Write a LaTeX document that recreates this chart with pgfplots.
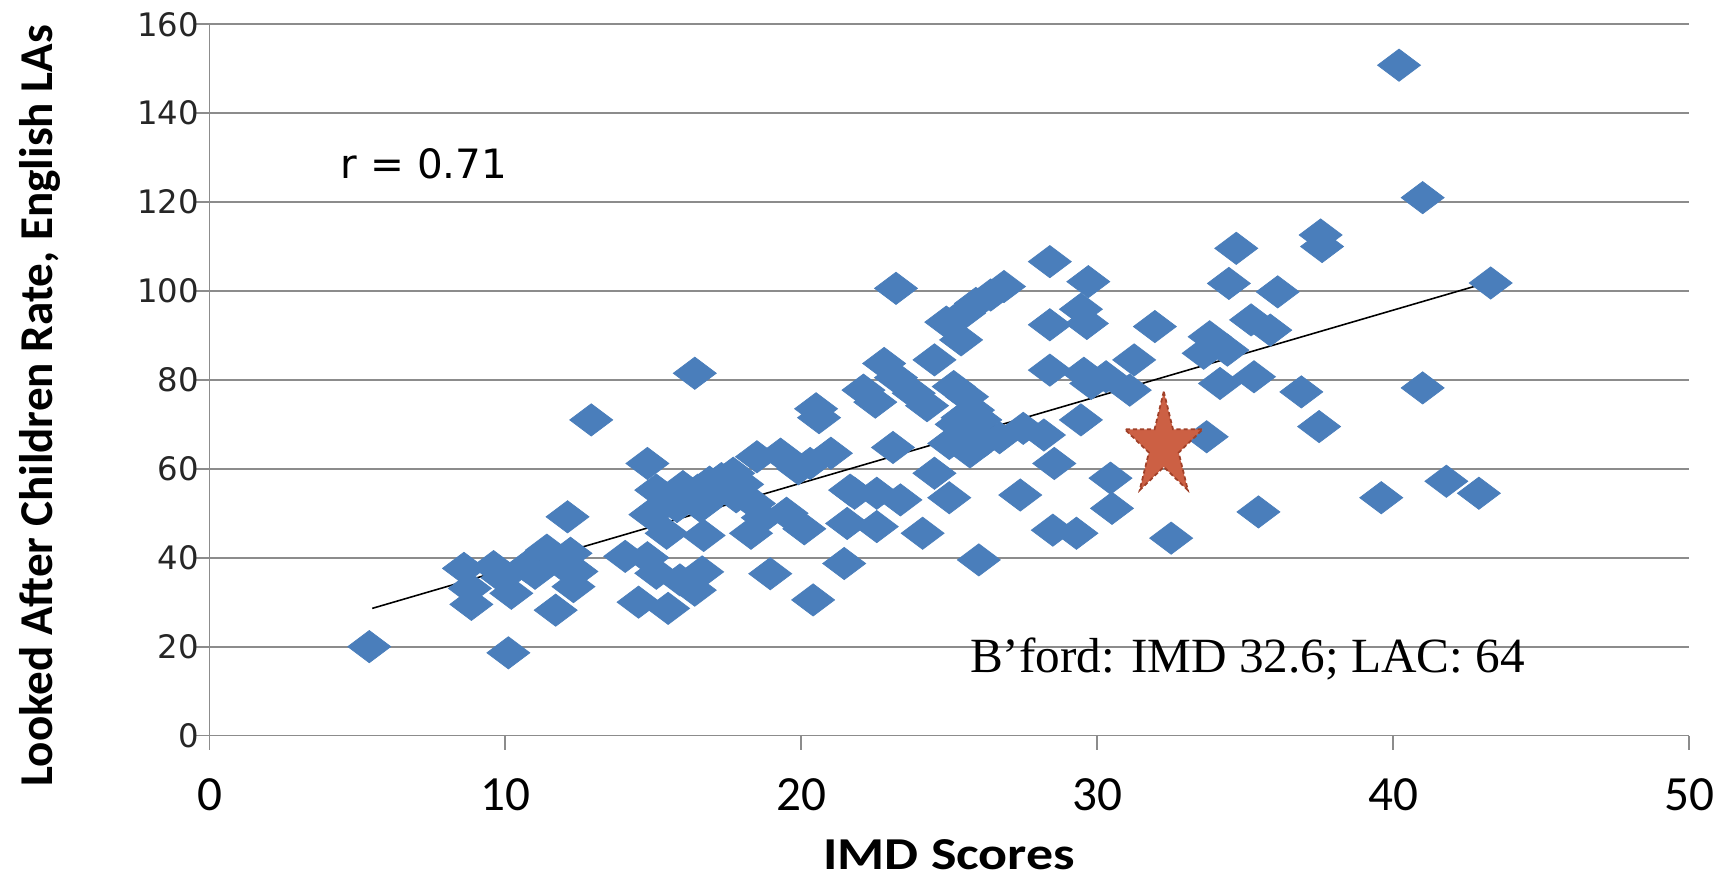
\documentclass[border=0pt]{standalone}
\usepackage{fontspec}
\setmainfont{Carlito}
\newfontfamily\dejavu{DejaVu Sans}
\newfontfamily\libserif{Liberation Serif}
\usepackage{graphicx}
\usepackage{pgfplots}
\pgfplotsset{compat=1.18}

\definecolor{ptblue}{RGB}{74,126,187}
\definecolor{gridgray}{RGB}{140,140,140}
\definecolor{starfill}{RGB}{204,96,68}
\definecolor{staredge}{RGB}{160,64,40}

% filled five-point star, outer radius = mark size
\pgfdeclareplotmark{fivestar}{%
  \pgfpathmoveto{\pgfqpoint{0pt}{\pgfplotmarksize}}%
  \pgfpathlineto{\pgfqpoint{-0.2245\pgfplotmarksize}{0.3090\pgfplotmarksize}}%
  \pgfpathlineto{\pgfqpoint{-0.9511\pgfplotmarksize}{0.3090\pgfplotmarksize}}%
  \pgfpathlineto{\pgfqpoint{-0.3633\pgfplotmarksize}{-0.1180\pgfplotmarksize}}%
  \pgfpathlineto{\pgfqpoint{-0.5878\pgfplotmarksize}{-0.8090\pgfplotmarksize}}%
  \pgfpathlineto{\pgfqpoint{0pt}{-0.3820\pgfplotmarksize}}%
  \pgfpathlineto{\pgfqpoint{0.5878\pgfplotmarksize}{-0.8090\pgfplotmarksize}}%
  \pgfpathlineto{\pgfqpoint{0.3633\pgfplotmarksize}{-0.1180\pgfplotmarksize}}%
  \pgfpathlineto{\pgfqpoint{0.9511\pgfplotmarksize}{0.3090\pgfplotmarksize}}%
  \pgfpathlineto{\pgfqpoint{0.2245\pgfplotmarksize}{0.3090\pgfplotmarksize}}%
  \pgfpathclose
  \pgfusepathqfillstroke
}

\pgfplotstableread{
x y
5.4 20.0
8.6 37.6
8.8 33.1
8.85 29.5
9.6 38.0
9.9 35.5
10.1 18.6
10.2 32.0
10.7 38.0
11.0 36.5
11.4 41.7
11.7 28.2
12.1 49.2
12.2 41.0
12.4 36.9
12.3 33.5
11.9 38.5
12.9 71.0
14.05 40.3
14.8 40.0
14.5 30.0
15.5 28.6
15.1 36.5
15.9 35.0
16.65 36.8
16.4 32.7
14.8 61.2
15.1 55.2
14.9 49.7
15.45 45.5
15.8 51.5
16.0 56.0
16.5 55.2
16.6 51.5
17.0 53.7
16.7 45.0
16.4 81.5
16.9 57.0
17.3 57.8
17.7 59.0
18.5 62.7
19.3 63.3
19.9 60.0
20.3 61.2
21.0 63.5
17.8 53.7
18.0 56.5
18.4 52.2
18.7 49.0
19.5 50.0
18.3 45.5
20.1 46.5
21.65 55.2
21.55 47.7
20.5 73.5
20.6 71.5
18.95 36.4
20.4 30.5
21.45 38.7
22.55 47.0
21.8 54.5
22.55 54.5
23.35 53.0
23.1 64.8
24.5 59.0
25.0 53.5
24.1 45.5
26.0 39.5
22.1 77.7
22.5 75.0
22.8 83.7
23.2 80.5
23.8 77.0
24.25 74.2
23.2 100.6
24.5 84.5
24.9 93.0
25.4 89.0
25.5 95.0
25.9 97.2
26.4 99.1
26.85 101.0
25.15 78.5
25.6 76.2
25.8 73.2
25.45 71.5
25.25 70.0
26.05 71.0
25.45 67.2
26.2 66.3
25.7 63.8
25.0 65.7
26.7 67.0
27.5 69.1
28.2 67.6
28.4 82.2
29.55 81.5
29.45 71.0
28.55 61.2
28.4 106.6
29.7 102.1
28.4 92.4
29.45 95.9
29.65 92.7
27.4 54.1
28.5 46.2
29.3 45.5
29.8 79.2
30.3 80.7
30.45 57.9
30.5 51.1
31.25 84.5
31.1 77.7
31.95 92.0
32.5 44.4
33.7 67.2
33.8 89.7
33.6 86.0
34.4 86.7
34.15 79.2
35.3 80.7
34.7 109.6
34.45 101.7
35.2 93.5
35.85 91.2
36.1 99.8
35.45 50.3
36.9 77.3
37.5 69.5
37.55 112.6
37.6 110.0
39.6 53.5
40.2 150.8
41.0 121.0
43.3 101.8
41.0 78.2
41.8 57.2
42.9 54.5
}\lascores

\begin{document}
\begin{tikzpicture}
\useasboundingbox (-20.95mm,-14.45mm) rectangle (151.95mm,73.55mm);
\begin{axis}[
    scale only axis,
    width=147.95mm, height=71.12mm,
    xmin=0, xmax=50, ymin=0, ymax=160,
    xtick={0,10,...,50}, ytick={0,20,...,160},
    axis x line*=bottom, axis y line*=left,
    axis line style={draw=gridgray, line width=0.55pt},
    ymajorgrids,
    major grid style={draw=gridgray, line width=0.55pt},
    tick align=outside, major tick length=1.4mm,
    tick style={draw=gridgray, line width=0.55pt},
    /pgf/number format/assume math mode=true,
    xticklabel style={font=\fontsize{14}{14}\selectfont, anchor=north, inner sep=0pt, yshift=-2.85mm},
    yticklabel style={font=\dejavu\fontsize{9.2}{9}\selectfont, anchor=east, inner sep=0pt, xshift=0.4mm, text=black!85},
    xlabel={\scalebox{1.18}[1]{IMD Scores}},
    ylabel={Looked After Children Rate, English LAs},
    xlabel style={at={(axis description cs:0.5,-0.168)}, anchor=center, inner sep=0pt, font=\bfseries\fontsize{13}{13}\selectfont},
    ylabel style={at={(axis description cs:-0.1148,0.4636)}, anchor=center, font=\bfseries\fontsize{13.4}{14}\selectfont},
]
\addplot[only marks, mark=diamond*, mark size=2.15mm,
    mark options={rotate=90, fill=ptblue, draw=ptblue, line width=0.2pt}]
    table[x=x, y=y] {\lascores};
% trend line
\addplot[black, line width=0.45pt] coordinates {(5.5,28.6) (43.4,102.3)};
% Bradford
\addplot[only marks, mark=fivestar, mark size=4.1mm,
    mark options={yscale=1.33, fill=starfill, draw=staredge, line width=0.5pt, dash pattern=on 1.2pt off 0.8pt}]
    coordinates {(32.25,65.1)};
\node[font=\dejavu\fontsize{11.5}{11.5}\selectfont, anchor=center] at (axis cs:7.25,128.7) {r = 0.71};
\node[font=\libserif\fontsize{14}{14}\selectfont, anchor=base] at (axis cs:35.08,14.15) {B’ford: IMD 32.6; LAC: 64};
\end{axis}
\end{tikzpicture}
\end{document}
